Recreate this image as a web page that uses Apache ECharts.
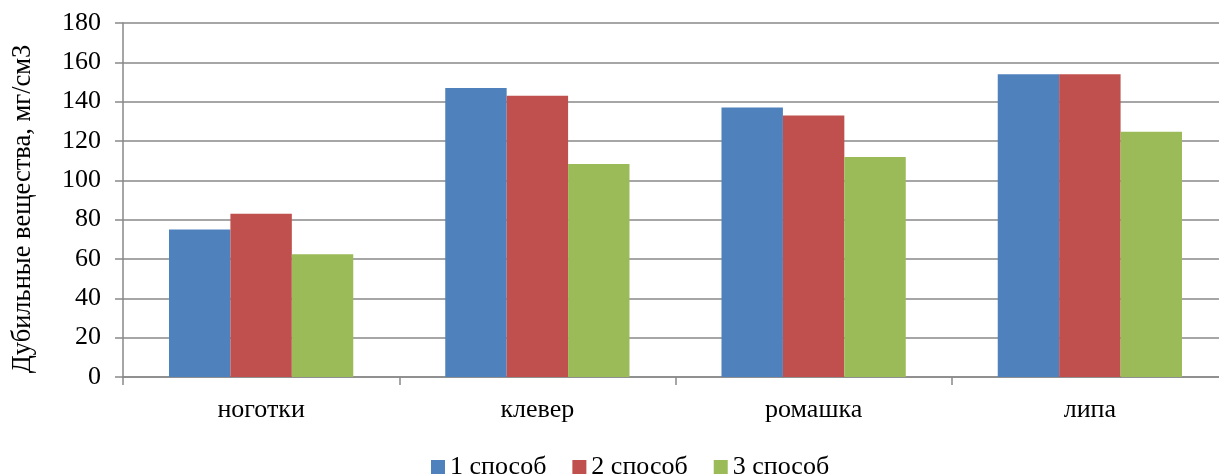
<!DOCTYPE html>
<html>
<head>
<meta charset="utf-8">
<script src="https://cdn.jsdelivr.net/npm/echarts@6/dist/echarts.min.js"></script>
<style>
  html, body { margin: 0; padding: 0; background: #ffffff; }
  #chart { width: 1219px; height: 474px; }
</style>
</head>
<body>
<div id="chart"></div>
<script>
// Plants and tannin content (mg/cm3) for three extraction methods
const categories = ['ноготки', 'клевер', 'ромашка', 'липа'];
const method1 = [75, 147, 137, 154];
const method2 = [83, 143, 133, 154];
const method3 = [62.4, 108.3, 111.9, 124.7];
const seriesNames = ['1 способ', '2 способ', '3 способ'];
const yTicks = { min: 0, max: 180, interval: 20 };

const FONT = '"Liberation Serif", "Times New Roman", serif';
const GRID_GREY = '#898989';
const colors = ['#4F81BD', '#C0504D', '#9BBB59'];

const chart = echarts.init(document.getElementById('chart'), null, { renderer: 'canvas' });

const mkSeries = (name, data, color) => ({
  name: name,
  type: 'bar',
  data: data,
  barGap: '0%',
  barCategoryGap: '33.3%',
  itemStyle: { color: color },
  emphasis: { disabled: true }
});

chart.setOption({
  animation: false,
  color: colors,
  textStyle: { fontFamily: FONT, color: '#000000' },
  // the plot runs a little past the right edge of the canvas
  grid: { left: 123, width: 1105, top: 23, height: 354, outerBoundsMode: 'none', containLabel: false },
  legend: {
    top: 449,
    left: 426,
    icon: 'rect',
    itemWidth: 14,
    itemHeight: 14,
    itemGap: 26,
    textStyle: { fontFamily: FONT, fontSize: 26, color: '#000000' },
    data: seriesNames
  },
  xAxis: {
    type: 'category',
    data: categories,
    axisLine: { lineStyle: { color: GRID_GREY, width: 1.5 } },
    axisTick: { show: true, length: 8, lineStyle: { color: GRID_GREY, width: 1.5 } },
    axisLabel: { fontFamily: FONT, fontSize: 26, color: '#000000', margin: 20 },
    splitLine: { show: false }
  },
  yAxis: {
    type: 'value',
    min: yTicks.min,
    max: yTicks.max,
    interval: yTicks.interval,
    name: 'Дубильные вещества, мг/см3',
    nameLocation: 'middle',
    nameGap: 86,
    nameTextStyle: { fontFamily: FONT, fontSize: 26.5, color: '#000000', padding: [0, 18, 0, 0] },
    axisLine: { show: true, lineStyle: { color: GRID_GREY, width: 1.5 } },
    axisTick: { show: true, length: 8, lineStyle: { color: GRID_GREY, width: 1.5 } },
    axisLabel: { fontFamily: FONT, fontSize: 26, color: '#000000', margin: 22 },
    splitLine: { show: true, lineStyle: { color: GRID_GREY, width: 1.5 } }
  },
  series: [
    mkSeries(seriesNames[0], method1, colors[0]),
    mkSeries(seriesNames[1], method2, colors[1]),
    mkSeries(seriesNames[2], method3, colors[2])
  ]
});
</script>
</body>
</html>
